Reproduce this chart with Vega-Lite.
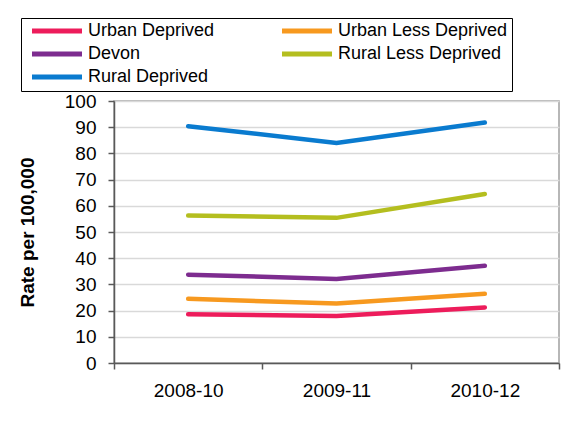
{
  "$schema": "https://vega.github.io/schema/vega-lite/v6.json",
  "width": 445,
  "height": 262,
  "autosize": {"type": "none"},
  "padding": {"left": 114, "top": 101, "right": 8, "bottom": 79},
  "background": "white",
  "config": {
    "font": "Liberation Sans",
    "view": {"stroke": "#a0a0a0", "strokeWidth": 1.5}
  },
  "data": {
    "values": [
      {"series": "Urban Deprived", "period": "2008-10", "value": 18.6},
      {"series": "Urban Deprived", "period": "2009-11", "value": 17.9},
      {"series": "Urban Deprived", "period": "2010-12", "value": 21.2},
      {"series": "Urban Less Deprived", "period": "2008-10", "value": 24.5},
      {"series": "Urban Less Deprived", "period": "2009-11", "value": 22.7},
      {"series": "Urban Less Deprived", "period": "2010-12", "value": 26.4},
      {"series": "Devon", "period": "2008-10", "value": 33.7},
      {"series": "Devon", "period": "2009-11", "value": 32.1},
      {"series": "Devon", "period": "2010-12", "value": 37.1},
      {"series": "Rural Less Deprived", "period": "2008-10", "value": 56.3},
      {"series": "Rural Less Deprived", "period": "2009-11", "value": 55.4},
      {"series": "Rural Less Deprived", "period": "2010-12", "value": 64.5},
      {"series": "Rural Deprived", "period": "2008-10", "value": 90.4},
      {"series": "Rural Deprived", "period": "2009-11", "value": 84.0},
      {"series": "Rural Deprived", "period": "2010-12", "value": 91.8}
    ]
  },
  "mark": {"type": "line", "strokeWidth": 4.5, "strokeCap": "round"},
  "encoding": {
    "x": {
      "field": "period",
      "type": "ordinal",
      "scale": {"type": "band", "paddingInner": 0, "paddingOuter": 0},
      "axis": {
        "title": null,
        "labelAngle": 0,
        "tickBand": "extent",
        "tickSize": 6,
        "tickColor": "#595959",
        "tickWidth": 1.5,
        "domainColor": "#595959",
        "domainWidth": 1.5,
        "labelFontSize": 19,
        "labelColor": "black",
        "labelPadding": 12,
        "grid": false
      }
    },
    "y": {
      "field": "value",
      "type": "quantitative",
      "scale": {"domain": [0, 100], "nice": false},
      "axis": {
        "values": [0, 10, 20, 30, 40, 50, 60, 70, 80, 90, 100],
        "title": "Rate per 100,000",
        "titleFontSize": 19,
        "titleFontWeight": "bold",
        "titleColor": "black",
        "titleX": -87,
        "titleY": 131,
        "titleAngle": -90,
        "titleAlign": "center",
        "titleBaseline": "middle",
        "labelFontSize": 19,
        "labelColor": "black",
        "labelPadding": 12,
        "tickSize": 6,
        "tickColor": "#595959",
        "tickWidth": 1.5,
        "domainColor": "#595959",
        "domainWidth": 1.5,
        "gridColor": "#d9d9d9",
        "gridWidth": 1.5
      }
    },
    "color": {
      "field": "series",
      "type": "nominal",
      "scale": {
        "domain": ["Urban Deprived", "Urban Less Deprived", "Devon", "Rural Less Deprived", "Rural Deprived"],
        "range": ["#ED1C5B", "#F7991F", "#7D2C8F", "#B4BE1F", "#0A7BCF"]
      },
      "legend": {
        "title": null,
        "orient": "none",
        "legendX": -93,
        "legendY": -83,
        "columns": 2,
        "direction": "horizontal",
        "symbolType": "M-5,0H5",
        "symbolSize": 100,
        "symbolStrokeWidth": 5,
        "symbolOffset": 23,
        "labelFontSize": 18,
        "labelColor": "black",
        "labelOffset": 22,
        "labelLimit": 300,
        "columnPadding": 57,
        "rowPadding": 3,
        "strokeColor": "black",
        "padding": 4
      }
    }
  }
}
